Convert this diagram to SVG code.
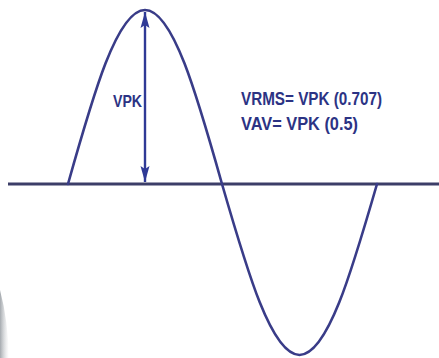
<svg xmlns="http://www.w3.org/2000/svg" width="439" height="358" viewBox="0 0 439 358">
  <defs>
    <style>
      .wave { fill: none; stroke: #393c88; stroke-width: 2.6; stroke-linecap: round; }
      .axis { stroke: #3c3e68; stroke-width: 3; }
      .arrow { stroke: #2f3a96; stroke-width: 2.4; }
      .lbl { font-family: "Liberation Sans", Arial, sans-serif; font-weight: bold; fill: #2c3384; }
    </style>
    <marker id="head" viewBox="0 0 16 10" refX="16" refY="5" markerWidth="16" markerHeight="10" markerUnits="userSpaceOnUse" orient="auto-start-reverse">
      <path d="M0,0.5 L16,5 L0,9.5 L3,5 Z" fill="#2f3a96"/>
    </marker>
    <linearGradient id="shade" x1="0" y1="0" x2="1" y2="0">
      <stop offset="0" stop-color="#8f959b"/>
      <stop offset="1" stop-color="#c9ccd0" stop-opacity="0"/>
    </linearGradient>
  </defs>
  <rect width="439" height="358" fill="#ffffff"/>
  <path d="M0,290 Q8,320 9,358 L0,358 Z" fill="url(#shade)" opacity="0.8"/>

  <g id="connectors">
    <line id="axis" class="axis" x1="8" y1="184" x2="439" y2="184"/>
    <path id="sine" class="wave" d="M68,184 C93.1,94.9 117.1,10 145,10 C172.9,10 196.9,94.9 222,184 C247.3,271.6 271.5,355 299.5,355 C327.5,355 351.7,271.6 377,184"/>
    <line id="vpk-arrow" class="arrow" x1="145" y1="12" x2="145" y2="182" marker-start="url(#head)" marker-end="url(#head)"/>
  </g>

  <g id="vpk-label">
    <text class="lbl" x="113" y="107" font-size="17" textLength="29" lengthAdjust="spacingAndGlyphs">VPK</text>
  </g>
  <g id="formulas">
    <text class="lbl" x="241" y="105" font-size="18" textLength="141" lengthAdjust="spacingAndGlyphs">VRMS= VPK (0.707)</text>
    <text class="lbl" x="241" y="130" font-size="18" textLength="117" lengthAdjust="spacingAndGlyphs">VAV= VPK (0.5)</text>
  </g>
</svg>
